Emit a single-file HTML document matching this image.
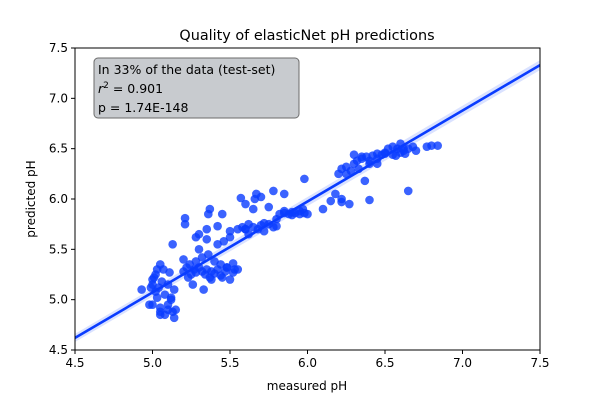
<!DOCTYPE html>
<html><head><meta charset="utf-8">
<style>
body{margin:0;background:#fff;width:600px;height:400px;overflow:hidden;font-family:"DejaVu Sans","Liberation Sans",sans-serif;}
svg text{font-family:"DejaVu Sans","Liberation Sans",sans-serif;}
</style></head>
<body>
<svg id="chart" width="600" height="400">
<rect x="0" y="0" width="600" height="400" fill="#fff"/>
<g id="plot"></g>
<g id="axes"></g>
<text x="307" y="40" font-size="14.4" text-anchor="middle" fill="#000">Quality of elasticNet pH predictions</text>
<text x="307" y="390" font-size="12" text-anchor="middle">measured pH</text>
<text x="35" y="199" font-size="12" text-anchor="middle" transform="rotate(-90 35 199)">predicted pH</text>
<g>
<rect x="94" y="58" width="205" height="60" rx="4" fill="#c8cbcf" stroke="#6b6b6b" stroke-width="1"/>
<text x="98" y="74" font-size="12.5">In 33% of the data (test-set)</text>
<text x="98" y="93" font-size="12.5"><tspan font-style="italic">r</tspan><tspan dy="-5" font-size="9">2</tspan><tspan dy="5"> = 0.901</tspan></text>
<text x="98" y="112" font-size="12.5">p = 1.74E-148</text>
</g>
</svg>
<script>
const xTicks=[4.5,5.0,5.5,6.0,6.5,7.0,7.5];
const yTicks=[4.5,5.0,5.5,6.0,6.5,7.0,7.5];
const fitLine=[[4.5,4.62],[7.5,7.33]];
const measured=[4.93,4.98,5.0,5.0,5.02,5.03,5.05,5.05,5.07,5.08,5.1,5.1,5.12,5.13,5.15,5.0,5.02,5.04,5.06,5.08,5.1,5.12,5.14,4.99,5.01,5.03,5.05,5.11,5.13,5.2,5.22,5.23,5.25,5.27,5.28,5.3,5.32,5.34,5.35,5.37,5.38,5.4,5.42,5.44,5.45,5.47,5.48,5.5,5.52,5.53,5.55,5.2,5.24,5.28,5.32,5.36,5.4,5.44,5.48,5.52,5.3,5.35,5.42,5.46,5.5,5.26,5.33,5.38,5.21,5.21,5.3,5.35,5.36,5.37,5.42,5.45,5.28,5.14,5.05,5.5,5.55,5.58,5.6,5.62,5.65,5.68,5.7,5.72,5.75,5.78,5.8,5.82,5.85,5.88,5.9,5.92,5.95,5.98,6.0,5.6,5.65,5.7,5.75,5.85,5.9,5.95,5.66,5.67,5.78,5.85,5.97,5.62,5.57,5.6,5.72,5.8,6.1,6.15,6.2,6.22,6.25,6.28,6.3,6.32,6.35,6.38,6.4,6.42,6.45,6.48,6.5,6.52,6.55,6.58,6.6,6.62,6.65,6.68,6.7,6.3,6.35,6.4,6.45,6.5,6.55,6.6,6.62,6.22,6.25,6.33,6.37,6.45,6.18,6.22,6.27,6.4,6.65,6.77,6.8,6.84,6.57,6.63,5.98];
const predicted=[5.1,4.95,5.15,5.2,5.25,5.02,4.88,4.92,5.3,4.85,4.9,4.95,5.0,4.88,4.9,4.95,5.08,5.12,5.18,5.05,5.15,5.02,5.1,5.12,5.22,5.3,5.35,5.27,5.55,5.28,5.32,5.22,5.25,5.3,5.27,5.32,5.28,5.25,5.3,5.22,5.28,5.26,5.3,5.24,5.22,5.28,5.32,5.2,5.27,5.3,5.3,5.4,5.35,5.38,5.42,5.45,5.38,5.35,5.32,5.36,5.5,5.6,5.55,5.58,5.62,5.15,5.1,5.2,5.75,5.81,5.65,5.7,5.85,5.9,5.73,5.85,5.62,4.82,4.85,5.68,5.7,5.72,5.7,5.75,5.72,5.7,5.74,5.76,5.75,5.72,5.8,5.85,5.86,5.85,5.84,5.86,5.85,5.86,5.85,5.95,5.9,6.02,5.92,5.88,5.87,5.88,6.0,6.05,6.08,6.05,5.9,5.65,6.01,5.7,5.68,5.73,5.9,5.98,6.25,6.3,6.32,6.28,6.35,6.38,6.4,6.42,6.38,6.43,6.45,6.44,6.46,6.5,6.52,6.5,6.55,6.48,6.5,6.52,6.48,6.44,6.42,6.35,6.4,6.45,6.44,6.46,6.5,6.0,6.25,6.3,6.18,6.35,6.05,5.97,5.95,5.99,6.08,6.52,6.53,6.53,6.43,6.45,6.2];
const NS='http://www.w3.org/2000/svg';
const X0=75,X1=540,Y0=350,Y1=48;
function sx(v){return X0+(v-4.5)/3*(X1-X0);}
function sy(v){return Y0-(v-4.5)/3*(Y0-Y1);}
function mk(t,a,p){const e=document.createElementNS(NS,t);for(const k in a)e.setAttribute(k,a[k]);p.appendChild(e);return e;}
const plot=document.getElementById('plot'),axes=document.getElementById('axes');
const cp=mk('clipPath',{id:'cp'},plot);mk('rect',{x:X0,y:Y1,width:X1-X0,height:Y0-Y1},cp);
const g=mk('g',{'clip-path':'url(#cp)'},plot);
const band=mk('polygon',{points:`${sx(4.5)},${sy(4.58)} ${sx(7.5)},${sy(7.28)} ${sx(7.5)},${sy(7.38)} ${sx(4.5)},${sy(4.66)}`,fill:'#0a3cff',opacity:0.15},g);


const n=Math.min(measured.length,predicted.length);
for(let i=0;i<n;i++){
  const c=mk('circle',{cx:sx(measured[i]),cy:sy(predicted[i]),r:4.3,fill:'#0a3cff','fill-opacity':0.8},g);
  
  
}
const ln=mk('line',{x1:sx(fitLine[0][0]),y1:sy(fitLine[0][1]),x2:sx(fitLine[1][0]),y2:sy(fitLine[1][1]),stroke:'#0a3cff','stroke-width':2.6},g);


const fr=mk('rect',{x:X0,y:Y1,width:X1-X0,height:Y0-Y1,fill:'none',stroke:'#000','stroke-width':1},axes);


xTicks.forEach(t=>{
  mk('line',{x1:sx(t),x2:sx(t),y1:Y0,y2:Y0+4,stroke:'#000'},axes);
  const tx=mk('text',{x:sx(t),y:Y0+17,'font-size':12,'text-anchor':'middle'},axes);
  tx.textContent=t.toFixed(1);
  
  
});
yTicks.forEach(t=>{
  mk('line',{x1:X0-4,x2:X0,y1:sy(t),y2:sy(t),stroke:'#000'},axes);
  const tx=mk('text',{x:X0-7,y:sy(t)+4,'font-size':12,'text-anchor':'end'},axes);
  tx.textContent=t.toFixed(1);
  
  
});
</script>
</body></html>
